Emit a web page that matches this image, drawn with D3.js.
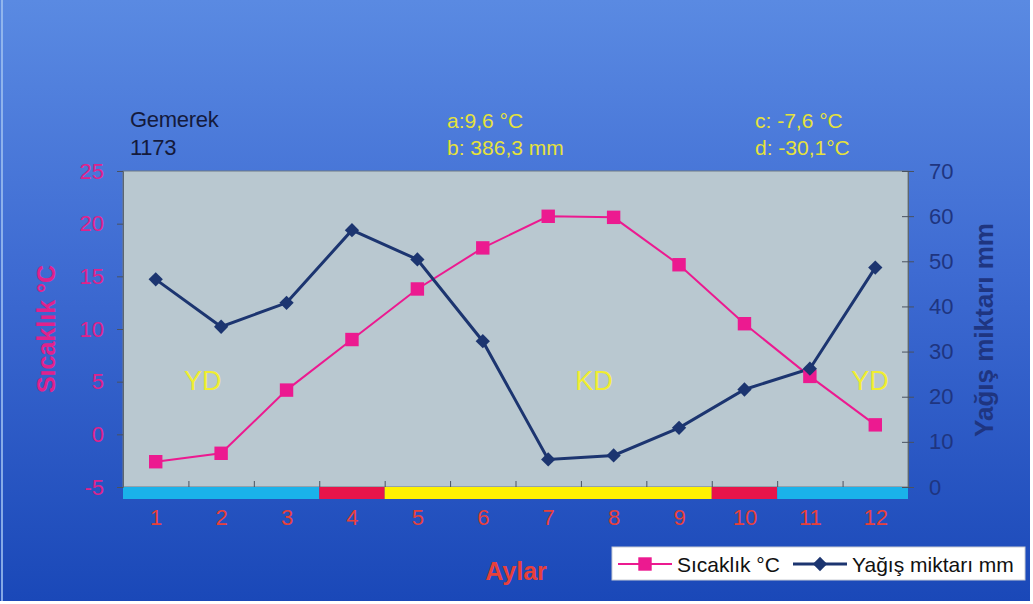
<!DOCTYPE html>
<html>
<head>
<meta charset="utf-8">
<script src="https://cdn.jsdelivr.net/npm/d3@7"></script>
<style>
  html, body { margin: 0; padding: 0; background: #ffffff; }
  svg { display: block; font-family: Arial, "Liberation Sans", sans-serif; }
</style>
</head>
<body>
<svg id="chart" width="1033" height="604"></svg>
<script>
// Gemerek climate diagram: monthly temperature and precipitation
const months = [1, 2, 3, 4, 5, 6, 7, 8, 9, 10, 11, 12];
const temperature = [-2.6, -1.8, 4.2, 9.0, 13.8, 17.7, 20.7, 20.6, 16.1, 10.5, 5.5, 0.9];
const precipitation = [46.0, 35.5, 40.8, 56.9, 50.4, 32.3, 6.1, 7.0, 13.1, 21.6, 26.2, 48.6];
const tempTicks = [-5, 0, 5, 10, 15, 20, 25];
const precipTicks = [0, 10, 20, 30, 40, 50, 60, 70];

// humid / dry period strip under the plot (month units)
const periodStart = [0.5, 3.5, 4.5, 9.5, 10.5];
const periodEnd   = [3.5, 4.5, 9.5, 10.5, 12.5];
const periodKind  = ["humid", "transition", "dry", "transition", "humid"];
const periodLabels = ["YD", "KD", "YD"];
const periodLabelMonth = [1.72, 7.7, 11.92];

const stationName = "Gemerek";
const stationAltitude = "1173";
const summaryLeft = ["a:9,6 °C", "b: 386,3 mm"];
const summaryRight = ["c: -7,6 °C", "d: -30,1°C"];

const plot = { left: 123, right: 908, top: 171, bottom: 487 };

const svg = d3.select("#chart");

// background
const defs = svg.append("defs");
const grad = defs.append("linearGradient").attr("id", "bg").attr("x1", 0).attr("y1", 0).attr("x2", 0).attr("y2", 1);
grad.append("stop").attr("offset", "0%").attr("stop-color", "#5a8ae2");
grad.append("stop").attr("offset", "45%").attr("stop-color", "#3e6bd2");
grad.append("stop").attr("offset", "100%").attr("stop-color", "#1a48b8");
svg.append("rect").attr("x", 0).attr("y", 0).attr("width", 1030).attr("height", 601).attr("fill", "url(#bg)");
svg.append("rect").attr("x", 1).attr("y", 0).attr("width", 2).attr("height", 601).attr("fill", "#9fc0f0").attr("opacity", 0.8);

// scales
const x = d3.scaleLinear().domain([0.5, 12.5]).range([plot.left, plot.right]);
const yT = d3.scaleLinear().domain([-5, 25]).range([plot.bottom, plot.top]);
const yP = d3.scaleLinear().domain([0, 70]).range([plot.bottom, plot.top]);

// plot area
svg.append("rect")
  .attr("x", plot.left).attr("y", plot.top)
  .attr("width", plot.right - plot.left).attr("height", plot.bottom - plot.top)
  .attr("fill", "#b9c8d0").attr("stroke", "#6f7a86").attr("stroke-width", 1);

// period strip
const stripColor = { humid: "#1ab2ea", transition: "#e8144a", dry: "#fff200" };
svg.append("g").selectAll("rect")
  .data(periodKind)
  .join("rect")
  .attr("x", (d, i) => x(periodStart[i]))
  .attr("width", (d, i) => x(periodEnd[i]) - x(periodStart[i]))
  .attr("y", plot.bottom)
  .attr("height", 12)
  .attr("fill", d => stripColor[d]);

// left axis (temperature)
const gL = svg.append("g").attr("transform", `translate(${plot.left},0)`)
  .call(d3.axisLeft(yT).tickValues(tempTicks).tickSize(6).tickPadding(13).tickFormat(d => String(d)));
gL.select(".domain").attr("stroke", "#5d6670");
gL.selectAll(".tick line").attr("stroke", "#4a5260");
gL.selectAll(".tick text").attr("fill", "#e0228c").attr("font-size", 22);

// right axis (precipitation)
const gR = svg.append("g").attr("transform", `translate(${plot.right},0)`)
  .call(d3.axisRight(yP).tickValues(precipTicks).tickSizeInner(6).tickSizeOuter(0).tickPadding(15).tickFormat(d => String(d)));
gR.select(".domain").attr("stroke", "#5d6670");
gR.selectAll(".tick line").attr("stroke", "#4a5260").attr("x1", -6);
gR.selectAll(".tick text").attr("fill", "#1f3580").attr("font-size", 22);

// bottom axis: boundary ticks inside the plot, month labels below the strip
const boundaries = months.slice(0, 11).map(m => m + 0.5);
const gB = svg.append("g").attr("transform", `translate(0,${plot.bottom})`)
  .call(d3.axisBottom(x).tickValues(boundaries).tickSize(-6).tickFormat(""));
gB.select(".domain").remove();
gB.selectAll(".tick line").attr("stroke", "#4a5260");

const gM = svg.append("g").attr("transform", `translate(0,${plot.bottom + 12})`)
  .call(d3.axisBottom(x).tickValues(months).tickSize(0).tickPadding(10).tickFormat(d => String(d)));
gM.select(".domain").remove();
gM.selectAll(".tick text").attr("fill", "#e8403a").attr("font-size", 22);

// axis titles
svg.append("text")
  .attr("transform", `translate(55,329) rotate(-90)`)
  .attr("text-anchor", "middle")
  .attr("fill", "#e0228c").attr("font-size", 25).attr("font-weight", "bold")
  .text("Sıcaklık °C");
svg.append("text")
  .attr("transform", `translate(993,330) rotate(-90)`)
  .attr("text-anchor", "middle")
  .attr("fill", "#1f3580").attr("font-size", 26).attr("font-weight", "bold")
  .text("Yağış miktarı mm");
svg.append("text")
  .attr("x", 516).attr("y", 580)
  .attr("text-anchor", "middle")
  .attr("fill", "#e8403a").attr("font-size", 25).attr("font-weight", "bold")
  .text("Aylar");

// period labels inside plot
svg.append("g").selectAll("text")
  .data(periodLabels)
  .join("text")
  .attr("x", (d, i) => x(periodLabelMonth[i]))
  .attr("y", 390)
  .attr("text-anchor", "middle")
  .attr("fill", "#f0ee30").attr("font-size", 27)
  .text(d => d);

// station and summary texts
svg.append("g").selectAll("text")
  .data([stationName, stationAltitude])
  .join("text")
  .attr("x", 130).attr("y", (d, i) => 127 + i * 28)
  .attr("fill", "#141a3c").attr("font-size", 22).attr("letter-spacing", -0.3)
  .text(d => d);
svg.append("g").selectAll("text")
  .data(summaryLeft)
  .join("text")
  .attr("x", 447).attr("y", (d, i) => 128 + i * 27)
  .attr("fill", "#e6e23a").attr("font-size", 21)
  .text(d => d);
svg.append("g").selectAll("text")
  .data(summaryRight)
  .join("text")
  .attr("x", 755).attr("y", (d, i) => 128 + i * 27)
  .attr("fill", "#e6e23a").attr("font-size", 21)
  .text(d => d);

// temperature and precipitation lines
const tempColor = "#ec1a90";
const precColor = "#1c3570";
svg.append("path")
  .datum(months)
  .attr("fill", "none").attr("stroke", tempColor).attr("stroke-width", 2)
  .attr("d", d3.line().x(m => x(m)).y((m, i) => yT(temperature[i])));
svg.append("path")
  .datum(months)
  .attr("fill", "none").attr("stroke", precColor).attr("stroke-width", 3)
  .attr("d", d3.line().x(m => x(m)).y((m, i) => yP(precipitation[i])));

const square = d3.symbol().type(d3.symbolSquare).size(180);
const diamond = d3.symbol().type(d3.symbolDiamond2).size(130);

svg.append("g").selectAll("path")
  .data(months)
  .join("path")
  .attr("transform", (m, i) => `translate(${x(m)},${yT(temperature[i])})`)
  .attr("d", square)
  .attr("fill", tempColor);
svg.append("g").selectAll("path")
  .data(months)
  .join("path")
  .attr("transform", (m, i) => `translate(${x(m)},${yP(precipitation[i])})`)
  .attr("d", diamond)
  .attr("fill", precColor);

// legend
const lg = svg.append("g");
lg.append("rect").attr("x", 612).attr("y", 547).attr("width", 413).attr("height", 33)
  .attr("fill", "#ffffff").attr("stroke", "#c8ccd4").attr("stroke-width", 1);
const legendItems = [
  { label: "Sıcaklık °C", color: tempColor, sym: square, lw: 2, x0: 618 },
  { label: "Yağış miktarı mm", color: precColor, sym: diamond, lw: 3, x0: 793 }
];
legendItems.forEach(it => {
  lg.append("line").attr("x1", it.x0).attr("x2", it.x0 + 54).attr("y1", 564).attr("y2", 564)
    .attr("stroke", it.color).attr("stroke-width", it.lw);
  lg.append("path").attr("transform", `translate(${it.x0 + 27},564)`).attr("d", it.sym).attr("fill", it.color);
  lg.append("text").attr("x", it.x0 + 59).attr("y", 572).attr("fill", "#111111").attr("font-size", 21).text(it.label);
});
</script>
</body>
</html>
